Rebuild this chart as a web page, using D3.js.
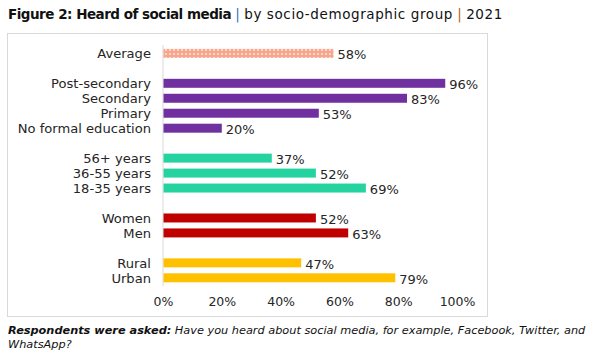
<!DOCTYPE html>
<html><head><meta charset="utf-8">
<script src="https://cdn.jsdelivr.net/npm/d3@7"></script>
<style>body{margin:0;background:#fff}</style>
</head><body>
<svg id="c" width="603" height="360"></svg>
<script>
const categories = ["Average","","Post-secondary","Secondary","Primary","No formal education","","56+ years","36-55 years","18-35 years","","Women","Men","","Rural","Urban"];
const values = [58,null,96,83,53,20,null,37,52,69,null,52,63,null,47,79];
const groups = ["avg",null,"edu","edu","edu","edu",null,"age","age","age",null,"sex","sex",null,"loc","loc"];
const groupColors = {avg:"url(#avgPat)", edu:"#7030A0", age:"#24D3A0", sex:"#C00000", loc:"#FFC000"};
const tickValues = [0,20,40,60,80,100];

const svg = d3.select("#c");
const font = "'DejaVu Sans', sans-serif";
const defs = svg.append("defs");
const pat = defs.append("pattern").attr("id","avgPat").attr("patternUnits","userSpaceOnUse")
  .attr("width",4).attr("height",4);
pat.append("rect").attr("width",4).attr("height",4).attr("fill","#F7A58C");
pat.append("circle").attr("cx",2).attr("cy",2).attr("r",1.1).attr("fill","#FDE3DA");

// title
const t = svg.append("text").attr("x",8).attr("y",19).attr("font-family",font).attr("font-size",13.5).attr("fill","#111");
t.append("tspan").attr("font-weight","bold").attr("letter-spacing",-0.5).text("Figure 2: Heard of social media");
t.append("tspan").attr("fill","#2E75B6").text(" | ");
t.append("tspan").attr("letter-spacing",0.6).text("by socio-demographic group");
t.append("tspan").attr("fill","#C55A11").text(" | ");
t.append("tspan").attr("letter-spacing",0.6).text("2021");

// frame
svg.append("rect").attr("x",7.5).attr("y",33.5).attr("width",480).attr("height",283)
  .attr("fill","none").attr("stroke","#D9D9D9");

const x = d3.scaleLinear().domain([0,100]).range([163,457]);
const y = d3.scaleBand().domain(d3.range(categories.length)).range([45.9,285.3]).paddingInner(0.4).paddingOuter(0.2);

svg.append("line").attr("x1",x(0)).attr("x2",x(0)).attr("y1",45).attr("y2",286)
  .attr("stroke","#D9D9D9");

const idx = d3.range(categories.length).filter(i => values[i] !== null);
svg.selectAll("rect.bar").data(idx).join("rect").attr("class","bar")
  .attr("x",x(0)+0.5).attr("y",i=>y(i)).attr("height",y.bandwidth())
  .attr("width",i=>x(values[i])-x(0)-0.5).attr("fill",i=>groupColors[groups[i]]);

svg.selectAll("text.val").data(idx).join("text").attr("class","val")
  .attr("x",i=>x(values[i])+4).attr("y",i=>y(i)+y.bandwidth()/2).attr("dy","0.45em")
  .attr("font-family",font).attr("font-size",13).attr("fill","#262626")
  .text(i=>values[i]+"%");

svg.selectAll("text.cat").data(idx).join("text").attr("class","cat")
  .attr("x",151).attr("y",i=>y(i)+y.bandwidth()/2).attr("dy","0.36em").attr("text-anchor","end")
  .attr("font-family",font).attr("font-size",13.1).attr("fill","#262626")
  .text(i=>categories[i]);

const ax = svg.append("g").attr("transform","translate(0,302)")
  .call(d3.axisBottom(x).tickValues(tickValues).tickFormat(d=>d+"%").tickSize(0).tickPadding(0));
ax.select(".domain").remove();
ax.selectAll("text").attr("font-family",font).attr("font-size",12.5).attr("fill","#262626").attr("dy","0.35em");

// footnote
const f = svg.append("text").attr("x",8).attr("y",334).attr("font-family",font).attr("font-size",11.3).attr("font-style","italic").attr("fill","#111");
f.append("tspan").attr("font-weight","bold").text("Respondents were asked:");
f.append("tspan").text(" Have you heard about social media, for example, Facebook, Twitter, and");
svg.append("text").attr("x",8).attr("y",348).attr("font-family",font).attr("font-size",11.3).attr("font-style","italic").attr("fill","#111")
  .text("WhatsApp?");
</script>
</body></html>
